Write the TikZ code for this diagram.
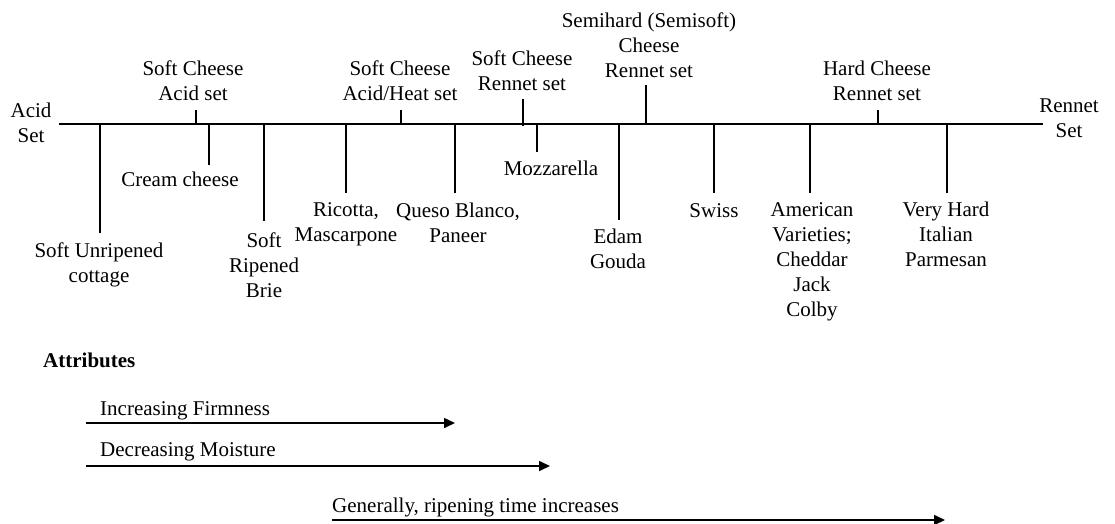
\documentclass[tikz,border=0pt]{standalone}
\usepackage{fontspec}
\setmainfont{Liberation Serif}
\usetikzlibrary{arrows.meta}
\begin{document}
\begin{tikzpicture}[x=1pt,y=-1pt,
  lbl/.style={font=\fontsize{21}{25}\selectfont, align=center, inner sep=0pt},
  axisline/.style={line width=2pt},
  tickline/.style={line width=1.6pt},
  arr/.style={line width=1.6pt, -{Triangle[length=11pt,width=10pt]}}]
\useasboundingbox (0,0) rectangle (1115,523);
% main axis
\coordinate (L) at (59,124);
\coordinate (R) at (1043,124);
\draw[axisline] (L) -- (R);
\node[lbl, anchor=north] (acid) at (31,102.7) {Acid\\Set};
\node[lbl, anchor=north] (rennet) at (1069,99) {Rennet\\Set};
% labels above
\node[lbl, anchor=south] (sa) at (193,101) {Soft Cheese\\Acid set};
\node[lbl, anchor=south] (sah) at (400,101) {Soft Cheese\\Acid/Heat set};
\node[lbl, anchor=south] (sr) at (522,91) {Soft Cheese\\Rennet set};
\node[lbl, anchor=south] (semi) at (649,78) {Semihard (Semisoft)\\Cheese\\Rennet set};
\node[lbl, anchor=south] (hard) at (877,101) {Hard Cheese\\Rennet set};
\coordinate (a1) at (196,124); \coordinate (a1e) at (196,110);
\coordinate (a2) at (401,124); \coordinate (a2e) at (401,110);
\coordinate (a3) at (523,126); \coordinate (a3e) at (523,99);
\coordinate (a4) at (646,124); \coordinate (a4e) at (646,85);
\coordinate (a5) at (878,124); \coordinate (a5e) at (878,110);
\draw[tickline] (a1) -- (a1e);
\draw[tickline] (a2) -- (a2e);
\draw[tickline] (a3) -- (a3e);
\draw[tickline] (a4) -- (a4e);
\draw[tickline] (a5) -- (a5e);
% labels below
\node[lbl, anchor=north] (cot) at (99,243) {Soft Unripened\\cottage};
\node[lbl, anchor=north] (cream) at (180,172) {Cream cheese};
\node[lbl, anchor=north] (brie) at (264,233) {Soft\\Ripened\\Brie};
\node[lbl, anchor=north] (ric) at (346,202) {Ricotta,\\Mascarpone};
\node[lbl, anchor=north] (queso) at (458,203) {Queso Blanco,\\Paneer};
\node[lbl, anchor=north] (mozz) at (551,161) {Mozzarella};
\node[lbl, anchor=north] (edam) at (618,229) {Edam\\Gouda};
\node[lbl, anchor=north] (swiss) at (714,203) {Swiss};
\node[lbl, anchor=north] (amer) at (812,202) {American\\Varieties;\\Cheddar\\Jack\\Colby};
\node[lbl, anchor=north] (vhard) at (946,202) {Very Hard\\Italian\\Parmesan};
\coordinate (b1) at (100,124); \coordinate (b1e) at (100,233);
\coordinate (b2) at (209,124); \coordinate (b2e) at (209,165);
\coordinate (b3) at (264,124); \coordinate (b3e) at (264,221);
\coordinate (b4) at (346,124); \coordinate (b4e) at (346,193);
\coordinate (b5) at (455,124); \coordinate (b5e) at (455,193);
\coordinate (b6) at (537,124); \coordinate (b6e) at (537,152);
\coordinate (b7) at (619,124); \coordinate (b7e) at (619,220);
\coordinate (b8) at (714,124); \coordinate (b8e) at (714,193);
\coordinate (b9) at (810,124); \coordinate (b9e) at (810,193);
\coordinate (b10) at (947,124); \coordinate (b10e) at (947,193);
\foreach \i in {1,...,10} {\draw[tickline] (b\i) -- (b\i e);}
% attributes
\node[lbl, anchor=base west, font=\fontsize{21}{25}\selectfont\bfseries] (attr) at (43,367) {Attributes};
\node[lbl, anchor=base west] (firm) at (100,415) {Increasing Firmness};
\node[lbl, anchor=base west] (moist) at (100,456) {Decreasing Moisture};
\node[lbl, anchor=base west] (ripe) at (332,512) {Generally, ripening time increases};
\coordinate (f1) at (86,423); \coordinate (f2) at (455,423);
\coordinate (m1) at (86,466); \coordinate (m2) at (550,466);
\coordinate (r1) at (332,520); \coordinate (r2) at (945,520);
\draw[arr] (f1) -- (f2);
\draw[arr] (m1) -- (m2);
\draw[arr] (r1) -- (r2);
\end{tikzpicture}
\end{document}
